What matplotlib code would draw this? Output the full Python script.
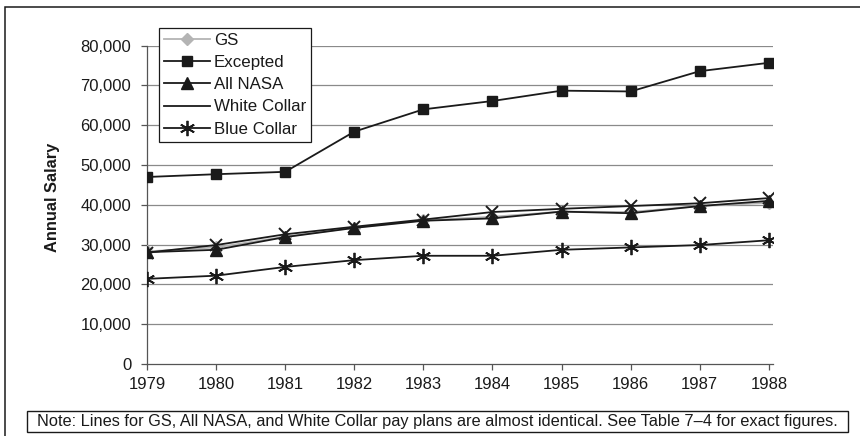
import matplotlib
matplotlib.use("Agg")
import matplotlib.pyplot as plt
from matplotlib.lines import Line2D
from matplotlib.patches import Rectangle
from matplotlib.ticker import FuncFormatter

plt.rcParams['font.family'] = ['Liberation Sans', 'DejaVu Sans']

years = [1979, 1980, 1981, 1982, 1983, 1984, 1985, 1986, 1987, 1988]
gs = [28300, 29300, 32000, 34300, 36100, 37000, 38300, 38200, 39700, 40500]
excepted = [47000, 47700, 48300, 58400, 64000, 66100, 68700, 68500, 73600, 75700]
all_nasa = [28100, 28700, 31900, 34200, 36000, 36600, 38300, 37900, 39700, 41000]
white_collar = [28000, 29900, 32600, 34500, 36300, 38200, 39000, 39700, 40400, 41700]
blue_collar = [21400, 22200, 24400, 26100, 27200, 27200, 28700, 29300, 29900, 31100]
yticks = [0, 10000, 20000, 30000, 40000, 50000, 60000, 70000, 80000]
series_names = ["GS", "Excepted", "All NASA", "White Collar", "Blue Collar"]
ylabel = "Annual Salary"
note = ("Note: Lines for GS, All NASA, and White Collar pay plans are almost identical. "
        "See Table 7\u20134 for exact figures.")

W, H = 860, 436
fig = plt.figure(figsize=(W / 100, H / 100), dpi=100)

def fx(px):
    return px / W

def fy(py):
    return (H - py) / H

ax = fig.add_axes([fx(147), fy(364), fx(773) - fx(147), fy(45.7) - fy(364)])

lw = 1.3
asterisk = (6, 2, 0)
ax.plot(years, gs, color='#b4b4b4', lw=lw, marker='D', markersize=6.5, zorder=3)
ax.plot(years, excepted, color='#1a1a1a', lw=lw, marker='s', markersize=7.5, zorder=4)
ax.plot(years, all_nasa, color='#1a1a1a', lw=lw, marker='^', markersize=8.5, zorder=5)
ax.plot(years, white_collar, color='#1a1a1a', lw=lw, marker='x', markersize=9, markeredgewidth=1.4, zorder=6)
ax.plot(years, blue_collar, color='#1a1a1a', lw=lw, marker=asterisk, markersize=11, markeredgewidth=1.3, zorder=7)

ax.set_xlim(1979, 1988.06)
ax.set_ylim(0, 80000)
ax.set_xticks(years)
ax.set_xticklabels([str(y) for y in years])
ax.set_yticks(yticks)
ax.yaxis.set_major_formatter(FuncFormatter(lambda v, p: f"{int(v):,}"))

for v in yticks[1:]:
    ax.axhline(v, color='#8a8a8a', lw=0.9, zorder=1)

for s in ['top', 'right']:
    ax.spines[s].set_visible(False)
ax.spines['left'].set_color('#555555')
ax.spines['bottom'].set_color('#555555')
ax.spines['left'].set_linewidth(0.9)
ax.spines['bottom'].set_linewidth(0.9)
ax.tick_params(axis='y', direction='out', length=4.3, width=0.9, color='#555555', pad=7, labelsize=12, labelcolor='#1a1a1a')
ax.tick_params(axis='x', direction='out', length=4.3, width=0.9, color='#555555', pad=5, labelsize=12, labelcolor='#1a1a1a')

fig.text(fx(52), fy(197), ylabel, rotation=90, ha='center', va='center', fontsize=11.8, fontweight='bold', color='#1a1a1a')

handles = [
    Line2D([], [], color='#b4b4b4', lw=lw, marker='D', markersize=6.5),
    Line2D([], [], color='#1a1a1a', lw=lw, marker='s', markersize=7.5),
    Line2D([], [], color='#1a1a1a', lw=lw, marker='^', markersize=8.5),
    Line2D([], [], color='#1a1a1a', lw=lw),
    Line2D([], [], color='#1a1a1a', lw=lw, marker=asterisk, markersize=11, markeredgewidth=1.3),
]
leg = ax.legend(handles, series_names, loc='upper left',
                bbox_to_anchor=(fx(159), fy(28)), bbox_transform=fig.transFigure,
                fontsize=12.2, frameon=True, fancybox=False, framealpha=1,
                edgecolor='#1a1a1a', handlelength=2.7, handletextpad=0.25,
                labelspacing=0.42, borderpad=0.3, borderaxespad=0)
leg.get_frame().set_linewidth(0.9)
leg.set_zorder(10)
for t in leg.get_texts():
    t.set_color('#1a1a1a')

# outer frame (cut off at right and bottom)
fig.patches.append(Rectangle((fx(4.5), -0.2), 1.5, fy(7) + 0.2, transform=fig.transFigure,
                             fill=False, edgecolor='#1a1a1a', lw=1.1))
# note box
fig.patches.append(Rectangle((fx(27), fy(432)), fx(848) - fx(27), fy(411) - fy(432),
                             transform=fig.transFigure, fill=True, facecolor='white',
                             edgecolor='#1a1a1a', lw=1.0))
fig.text(fx(437.5), fy(421.5), note, ha='center', va='center', fontsize=11.8, color='#1a1a1a')

fig.savefig("out.png", dpi=100, facecolor='white')
